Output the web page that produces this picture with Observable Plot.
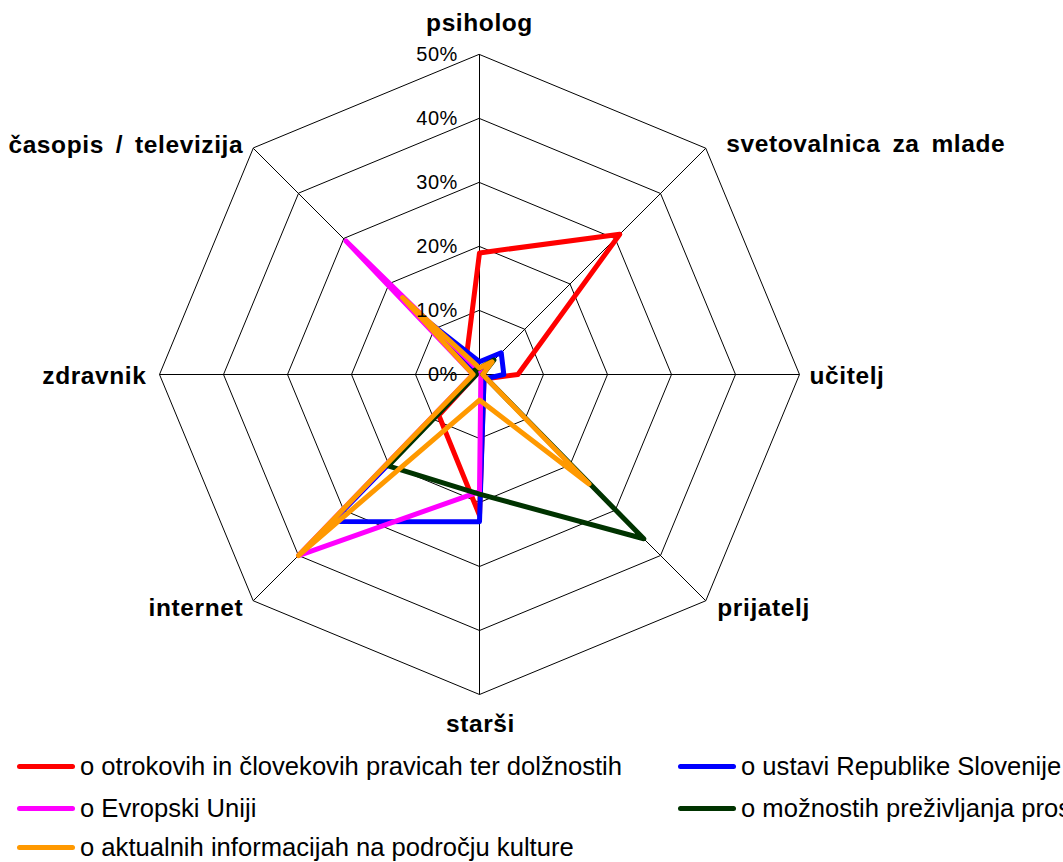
<!DOCTYPE html>
<html><head><meta charset="utf-8">
<script src="https://cdn.jsdelivr.net/npm/d3@7"></script>
<script src="https://cdn.jsdelivr.net/npm/@observablehq/plot@0.6"></script>
<style>
html,body{margin:0;padding:0;background:#fff;overflow:hidden;width:1063px;height:862px;}
#chart{position:absolute;left:0;top:0;}
#chart g[font-weight="bold"] text{letter-spacing:0.6px;word-spacing:4.5px;}
#chart g[font-size="20"] text{letter-spacing:0.6px;}
.leg{position:absolute;height:25.6px;display:flex;align-items:center;white-space:nowrap;font-family:"Liberation Sans",Arial,sans-serif;font-size:25.6px;line-height:25.6px;color:#000;}
.sw{display:inline-block;width:58px;height:5px;border-radius:3px;margin-right:5px;flex:none;}
</style></head><body>
<div id="chart"></div>
<div id="legend"></div>
<script>
// ---- data ----
const categories = ["psiholog", "svetovalnica za mlade", "učitelj", "prijatelj", "starši", "internet", "zdravnik", "časopis / televizija"];
const seriesNames = [
  "o otrokovih in človekovih pravicah ter dolžnostih",
  "o ustavi Republike Slovenije",
  "o Evropski Uniji",
  "o možnostih preživljanja prostega časa",
  "o aktualnih informacijah na področju kulture"
];
const seriesColors = ["#ff0000", "#0000ff", "#ff00ff", "#003300", "#ff9900"];
const otrokovePravice = [19, 31, 6, 1, 22, 9, 0.5, 3];
const ustavaRS = [2, 4.8, 3.8, 1, 23, 32.5, 0.5, 13];
const evropskaUnija = [0.5, 2, 0.5, 0.3, 18.3, 40, 1, 29.5];
const prostiCas = [1, 3.2, 0.5, 36.3, 18.7, 20.2, 0.5, 1];
const kultura = [1, 2.8, 0.5, 24.2, 4, 40, 1, 17];
const gridLevels = [10, 20, 30, 40, 50];
const tickValues = [0, 10, 20, 30, 40, 50];
const tickLabels = ["0%", "10%", "20%", "30%", "40%", "50%"];

// ---- build ----
const seriesValues = [otrokovePravice, ustavaRS, evropskaUnija, prostiCas, kultura];
const n = categories.length;
const ang = i => i * 2 * Math.PI / n;
const px = (r, i) => r * Math.sin(ang(i));
const py = (r, i) => r * Math.cos(ang(i));
const maxLevel = d3.max(gridLevels);

const seriesRows = seriesNames.flatMap((s, k) => seriesValues[k].map((v, i) => ({series: s, cat: categories[i], value: v, x: px(v, i), y: py(v, i)})));
const gridRows = gridLevels.flatMap(l => categories.map((c, i) => ({level: l, x: px(l, i), y: py(l, i)})));
const spokes = categories.map((c, i) => ({cat: c, x: px(maxLevel, i), y: py(maxLevel, i)}));

// label layout (offsets in px from the outer vertex)
const labelLayout = [
  {anchor: "middle", dx: 0, dy: -31},
  {anchor: "start", dx: 20.5, dy: -4.5},
  {anchor: "start", dx: 10, dy: 1.5},
  {anchor: "start", dx: 11.5, dy: 7},
  {anchor: "middle", dx: 1, dy: 30},
  {anchor: "end", dx: -10, dy: 7},
  {anchor: "end", dx: -13, dy: 1.5},
  {anchor: "end", dx: -10, dy: -3.5}
];

const labelMarks = categories.map((c, i) => Plot.text([spokes[i]], {
  x: "x", y: "y", text: d => d.cat,
  textAnchor: labelLayout[i].anchor, dx: labelLayout[i].dx, dy: labelLayout[i].dy,
  fontSize: 24.5, fontWeight: "bold", fill: "black"
}));

const chart = Plot.plot({
  width: 1063,
  height: 740,
  x: {domain: [-50, 50], range: [159, 799], axis: null},
  y: {domain: [-50, 50], range: [694, 54], axis: null},
  color: {domain: seriesNames, range: seriesColors},
  style: {fontFamily: "'Liberation Sans', Arial, sans-serif", background: "white", overflow: "visible"},
  marks: [
    Plot.line(gridRows, {x: "x", y: "y", z: "level", curve: "linear-closed", stroke: "black", strokeWidth: 1}),
    Plot.link(spokes, {x1: d => 0, y1: d => 0, x2: "x", y2: "y", stroke: "black", strokeWidth: 1}),
    Plot.line(seriesRows, {x: "x", y: "y", z: "series", stroke: "series", curve: "linear-closed", strokeWidth: 5, strokeLinejoin: "round", strokeLinecap: "round"}),
    Plot.text(tickValues, {x: d => 0, y: d => d, text: (d, i) => tickLabels[i], textAnchor: "end", dx: -21.5, dy: 0.5, fontSize: 20, fill: "black"}),
    ...labelMarks
  ]
});
document.getElementById("chart").appendChild(chart);

// ---- legend ----
const legendPos = [
  {left: 17, top: 767}, {left: 678, top: 767},
  {left: 17, top: 808.5}, {left: 678, top: 808.5},
  {left: 17, top: 848}
];
const legend = d3.select("#legend");
seriesNames.forEach((s, k) => {
  const item = legend.append("div").attr("class", "leg")
    .style("left", legendPos[k].left + "px").style("top", (legendPos[k].top - 12.8) + "px");
  item.append("span").attr("class", "sw").style("background", seriesColors[k]);
  item.append("span").text(s);
});
</script>
</body></html>
